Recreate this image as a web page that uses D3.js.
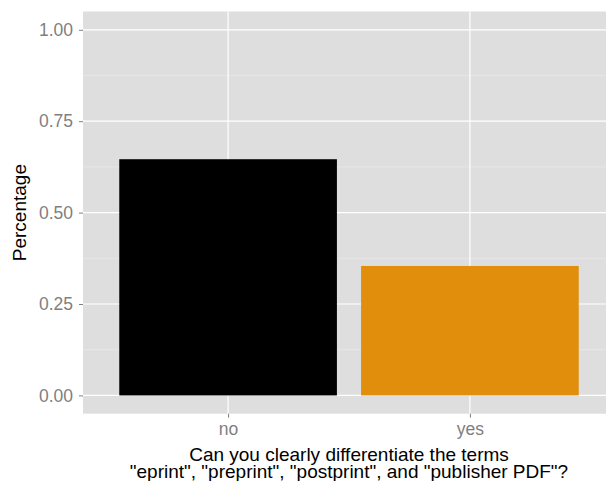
<!DOCTYPE html>
<html><head><meta charset="utf-8">
<script src="https://cdnjs.cloudflare.com/ajax/libs/d3/7.8.5/d3.min.js"></script>
<style>body{margin:0;background:#fff;}svg{display:block;font-family:"Liberation Sans",Arial,sans-serif;}</style>
</head><body>
<script>
const categories = ["no", "yes"];
const values = [0.646, 0.354];
const colors = ["#000000", "#e08e0b"];
const yTicks = [0, 0.25, 0.5, 0.75, 1.0];
const yMinor = [0.125, 0.375, 0.625, 0.875];
const xTitle = ["Can you clearly differentiate the terms", "\"eprint\", \"preprint\", \"postprint\", and \"publisher PDF\"?"];
const yTitle = "Percentage";

const W = 606, H = 481;
const panel = {left: 83, top: 11.5, right: 615, bottom: 413.7};
const svg = d3.select("body").append("svg").attr("width", W).attr("height", H);

const y = d3.scaleLinear().domain([-0.05, 1.05]).range([panel.bottom, panel.top]);
const xc = d3.scaleLinear().domain([0.4, categories.length + 0.6]).range([panel.left, panel.right]);
const band = xc(2) - xc(1);

svg.append("rect").attr("x", panel.left).attr("y", panel.top)
  .attr("width", panel.right - panel.left).attr("height", panel.bottom - panel.top)
  .attr("fill", "#dedede");

const g = svg.append("g");
g.selectAll(".minor").data(yMinor).enter().append("line")
  .attr("x1", panel.left).attr("x2", panel.right)
  .attr("y1", d => y(d)).attr("y2", d => y(d))
  .attr("stroke", "#ececec").attr("stroke-width", 0.6);
g.selectAll(".major").data(yTicks).enter().append("line")
  .attr("x1", panel.left).attr("x2", panel.right)
  .attr("y1", d => y(d)).attr("y2", d => y(d))
  .attr("stroke", "#ffffff").attr("stroke-width", 1.2);
g.selectAll(".vmajor").data(categories).enter().append("line")
  .attr("x1", (d, i) => xc(i + 1)).attr("x2", (d, i) => xc(i + 1))
  .attr("y1", panel.top).attr("y2", panel.bottom)
  .attr("stroke", "#ffffff").attr("stroke-width", 1.2);

g.selectAll(".bar").data(values).enter().append("rect")
  .attr("x", (d, i) => xc(i + 1) - 0.45 * band)
  .attr("width", 0.9 * band)
  .attr("y", d => y(d))
  .attr("height", d => y(0) - y(d))
  .attr("fill", (d, i) => colors[i]);

const tickFont = "17.5px";
const titleFont = "19px";

const yAxis = d3.axisLeft(y).tickValues(yTicks).tickFormat(d3.format(".2f")).tickSize(4).tickPadding(6);
const ya = svg.append("g").attr("transform", `translate(${panel.left},0)`).call(yAxis);
ya.select(".domain").remove();
ya.selectAll("line").attr("stroke", "#7f7f7f").attr("stroke-width", 1);
ya.selectAll("text").attr("fill", "#7f7f7f").style("font-size", tickFont).attr("font-family", "Liberation Sans, Arial, sans-serif");

const xAxis = d3.axisBottom(xc).tickValues(categories.map((d, i) => i + 1)).tickFormat(d => categories[d - 1]).tickSize(4).tickPadding(5);
const xa = svg.append("g").attr("transform", `translate(0,${panel.bottom})`).call(xAxis);
xa.select(".domain").remove();
xa.selectAll("line").attr("stroke", "#7f7f7f").attr("stroke-width", 1);
xa.selectAll("text").attr("fill", "#7f7f7f").style("font-size", tickFont).attr("font-family", "Liberation Sans, Arial, sans-serif");

const cx = (panel.left + panel.right) / 2;
svg.append("text").attr("x", cx).attr("y", 461).attr("text-anchor", "middle")
  .style("font-size", titleFont).attr("fill", "#000").text(xTitle[0]);
svg.append("text").attr("x", cx).attr("y", 477.5).attr("text-anchor", "middle")
  .style("font-size", titleFont).attr("fill", "#000").text(xTitle[1]);
svg.append("text").attr("transform", `translate(25.5,${(panel.top + panel.bottom) / 2}) rotate(-90)`)
  .attr("text-anchor", "middle").style("font-size", titleFont).attr("fill", "#000").text(yTitle);
</script>
</body></html>
